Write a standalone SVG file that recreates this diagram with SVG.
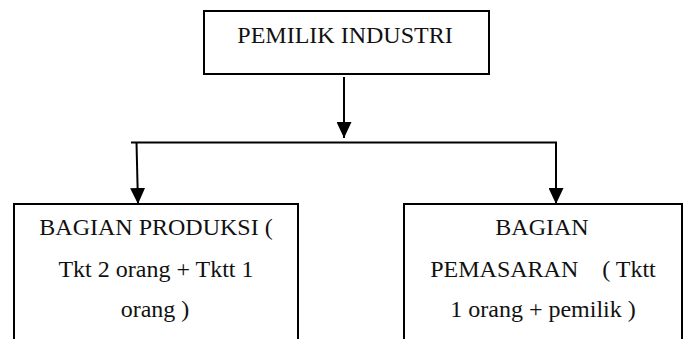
<svg xmlns="http://www.w3.org/2000/svg" width="688" height="339" viewBox="0 0 688 339">
<defs>
<style>
.box{fill:#fff;stroke:#000;stroke-width:2}
.t{font-family:"Liberation Serif","Times New Roman",serif;font-size:24px;fill:#111}
.c{stroke:#000;stroke-width:2;fill:none}
</style>
<marker id="ah" viewBox="0 0 16 15" refX="16" refY="7.5" markerWidth="16" markerHeight="15" markerUnits="userSpaceOnUse" orient="auto">
<path d="M0,0 L16,7.5 L0,15 Z" fill="#000"/>
</marker>
</defs>
<rect width="688" height="339" fill="#fff"/>
<g id="pemilik">
<rect class="box" x="204" y="11" width="285" height="63"/>
<text class="t" x="345" y="43" text-anchor="middle">PEMILIK INDUSTRI</text>
</g>
<g id="produksi">
<rect class="box" x="14" y="204" width="284" height="140"/>
<text class="t" x="156" y="235" text-anchor="middle">BAGIAN PRODUKSI (</text>
<text class="t" x="156" y="277" text-anchor="middle">Tkt 2 orang + Tktt 1</text>
<text class="t" x="155" y="317" text-anchor="middle">orang )</text>
</g>
<g id="pemasaran">
<rect class="box" x="404" y="204" width="278" height="140"/>
<text class="t" x="542" y="235" text-anchor="middle">BAGIAN</text>
<text class="t" x="543" y="277" text-anchor="middle" xml:space="preserve">PEMASARAN    ( Tktt</text>
<text class="t" x="543" y="317" text-anchor="middle">1 orang + pemilik )</text>
</g>
<g id="connectors">
<line class="c" x1="344" y1="77" x2="344" y2="138" marker-end="url(#ah)"/>
<line class="c" x1="131" y1="142.5" x2="557" y2="142.5"/>
<line class="c" x1="136.5" y1="142.5" x2="138" y2="204" marker-end="url(#ah)"/>
<line class="c" x1="556" y1="142.5" x2="556" y2="204" marker-end="url(#ah)"/>
</g>
</svg>
